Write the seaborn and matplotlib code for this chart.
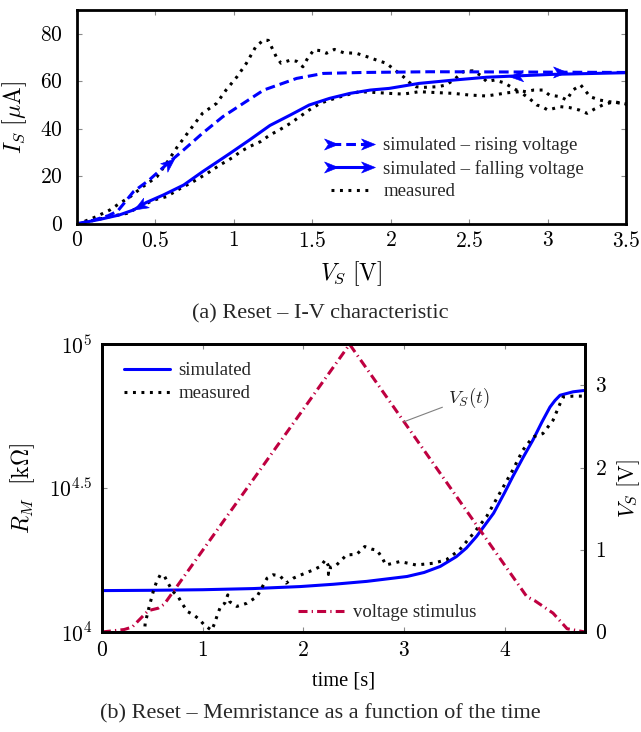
import numpy as np
import matplotlib
matplotlib.use("Agg")
import matplotlib.pyplot as plt
import seaborn as sns
from matplotlib.path import Path
from matplotlib.markers import MarkerStyle
from matplotlib.transforms import Affine2D
from matplotlib.lines import Line2D
from matplotlib.ticker import FixedLocator, FuncFormatter, NullLocator

# ---------------- data: (a) I-V characteristic ----------------
# measured, rising branch (V in V, I in uA)
v_meas_up = [0.00, 0.06, 0.12, 0.21, 0.27, 0.34, 0.42, 0.51, 0.57, 0.64, 0.72, 0.80,
             0.89, 0.95, 1.02, 1.08, 1.14, 1.19, 1.22, 1.27, 1.30, 1.36, 1.40, 1.44,
             1.47, 1.51, 1.55, 1.59, 1.64, 1.70, 1.78, 1.85, 1.91, 1.97, 2.04, 2.08,
             2.12, 2.16, 2.20, 2.30, 2.35, 2.40, 2.46, 2.52, 2.57, 2.61, 2.66, 2.72,
             2.80, 2.86, 2.91, 2.97, 3.01, 3.08, 3.12, 3.16, 3.21, 3.27, 3.33, 3.39,
             3.45, 3.50]
i_meas_up = [0.0, 1.4, 3.0, 5.9, 8.6, 11.5, 15.7, 19.9, 25.5, 32.5, 39.6, 46.6,
             50.8, 56.4, 62.0, 67.7, 74.7, 77.5, 77.3, 70.4, 67.7, 69.0, 68.5, 66.2,
             69.8, 73.3, 73.0, 71.9, 73.5, 72.1, 71.9, 70.4, 69.0, 67.7, 64.1, 62.0,
             59.5, 57.8, 57.5, 57.8, 58.5, 60.6, 64.1, 64.5, 62.7, 60.0, 60.6, 59.5,
             56.4, 55.7, 56.4, 56.4, 54.3, 53.6, 52.2, 56.4, 58.5, 53.6, 52.2, 51.5,
             51.0, 50.5]
# measured, falling branch
v_meas_down = [3.50, 3.42, 3.35, 3.30, 3.25, 3.20, 3.14, 3.08, 3.03, 3.00, 2.96, 2.93,
               2.88, 2.82, 2.75, 2.61, 2.50, 2.40, 2.30, 2.18, 2.08, 1.99, 1.87, 1.80,
               1.74, 1.68, 1.61, 1.55, 1.48, 1.42, 1.36, 1.29, 1.23, 1.17, 1.10, 1.04,
               1.00, 0.91, 0.83, 0.74, 0.66, 0.57, 0.49, 0.40, 0.32, 0.21, 0.12, 0.04,
               0.00]
i_meas_down = [50.5, 51.5, 50.1, 48.5, 46.6, 48.0, 49.0, 49.4, 48.5, 48.0, 49.5, 50.1,
               53.0, 55.7, 55.3, 53.9, 54.3, 55.0, 55.3, 55.7, 54.7, 55.0, 55.5, 55.7,
               54.7, 53.6, 52.2, 50.8, 48.0, 45.2, 42.4, 39.6, 37.5, 34.7, 32.6, 30.4,
               28.3, 24.8, 21.3, 17.8, 15.0, 11.5, 10.1, 7.3, 4.5, 3.1, 1.7, 0.6,
               0.0]
# simulated, rising voltage
v_sim_up = [0.00, 0.10, 0.20, 0.26, 0.30, 0.36, 0.46, 0.57, 0.68, 0.80, 0.93, 1.06,
            1.19, 1.25, 1.40, 1.57, 1.82, 2.25, 2.80, 3.50]
i_sim_up = [0.0, 1.5, 3.5, 5.5, 8.7, 13.6, 18.5, 25.0, 31.2, 38.2, 45.2, 50.8,
            56.4, 57.8, 61.3, 63.4, 63.8, 64.1, 64.0, 63.8]
# simulated, falling voltage
v_sim_down = [3.50, 3.03, 2.82, 2.61, 2.40, 2.18, 1.99, 1.87, 1.74, 1.61, 1.48, 1.36,
              1.23, 1.10, 0.97, 0.80, 0.68, 0.55, 0.44, 0.36, 0.27, 0.15, 0.02, 0.00]
i_sim_down = [63.7, 63.0, 62.4, 61.8, 60.6, 59.2, 57.1, 56.4, 55.0, 52.9, 50.1, 45.9,
              41.5, 35.4, 29.5, 22.0, 16.4, 12.2, 9.0, 5.9, 3.8, 2.0, 0.3, 0.0]

# ---------------- data: (b) memristance vs time ----------------
t_sim = [0.00, 0.50, 1.00, 1.50, 1.97, 2.30, 2.63, 3.03, 3.20, 3.36, 3.52, 3.62,
         3.72, 3.80, 3.89, 4.00, 4.08, 4.18, 4.28, 4.37, 4.45, 4.50, 4.55, 4.68, 4.80]
r_sim = [13930, 13964, 14028, 14157, 14388, 14655, 14997, 15596, 16106, 16904, 18281, 19588,
         21478, 23442, 25882, 30549, 34674, 40272, 46452, 53703, 60534, 63826, 66527, 68391, 69183]
t_meas = [0.42, 0.43, 0.47, 0.51, 0.54, 0.58, 0.62, 0.66, 0.70, 0.76, 0.80, 0.85,
          0.91, 0.97, 1.02, 1.09, 1.12, 1.15, 1.18, 1.22, 1.25, 1.27, 1.34, 1.44,
          1.54, 1.64, 1.70, 1.77, 1.83, 1.90, 1.98, 2.10, 2.17, 2.22, 2.25, 2.25,
          2.27, 2.33, 2.43, 2.53, 2.61, 2.68, 2.73, 2.78, 2.82, 2.96, 3.12, 3.29,
          3.42, 3.55, 3.69, 3.82, 3.95, 4.08, 4.18, 4.28, 4.38, 4.48, 4.55, 4.58,
          4.68, 4.77]
r_meas = [9772, 10740, 12274, 13836, 14859, 15812, 15668, 14723, 13900, 13213, 12503, 11776,
          11482, 11041, 10544, 10139, 10740, 11561, 12303, 12589, 13459, 12735, 12274, 12589,
          13274, 15382, 15812, 15668, 14791, 15382, 15812, 16443, 16904, 17824, 16982, 15849,
          16788, 17100, 18535, 18621, 19815, 19409, 19275, 18197, 17100, 17579, 17100, 17338,
          17824, 19275, 22029, 25177, 30339, 36559, 42855, 47643, 48978, 54450, 62230, 65615,
          66069, 66069]
t_volt = [0.00, 0.22, 0.30, 0.46, 0.56, 0.62, 2.46, 4.22, 4.30, 4.48, 4.62, 4.80]
v_volt = [0.00, 0.03, 0.06, 0.26, 0.29, 0.34, 3.50, 0.43, 0.38, 0.23, 0.04, 0.00]

iv_xticks = [0, 0.5, 1, 1.5, 2, 2.5, 3, 3.5]
iv_yticks = [0, 20, 40, 60, 80]
rm_xticks = [0, 1, 2, 3, 4]
rm_yticks = [1e4, 10 ** 4.5, 1e5]
rm_yticklabels = [r"$10^{4}$", r"$10^{4.5}$", r"$10^{5}$"]
vs_yticks = [0, 1, 2, 3]

iv_labels = ["simulated – rising voltage", "simulated – falling voltage", "measured"]
rm_labels = ["simulated", "measured"]
stim_label = "voltage stimulus"

# ---------------- style ----------------
BLUE = "#0000ff"
CRIMSON = "#bf0040"
LW = 2.2
DLW = 2.2
DOTTED = (0, (2.1, 4.0))
DASHED = (0, (7.0, 3.6))
DASHDOT = (0, (6.5, 3.0, 0.9, 3.0))
ARROW_RISING_AT = [0.585, 3.08]
ARROW_FALLING_AT = [2.80, 0.40]
TICK_FS = 15.5
LABEL_FS = 17
LEG_FS = 13.5
CAP_FS = 16

sns.set_theme(style="white")
plt.rcParams.update({
    "font.family": ["Liberation Serif", "DejaVu Serif"],
    "mathtext.fontset": "cm",
    "font.size": 13.5,
    "axes.linewidth": 2.0,
    "axes.edgecolor": "black",
    "axes.labelcolor": "black",
    "xtick.direction": "in",
    "ytick.direction": "in",
    "xtick.color": "#8a8a8a",
    "ytick.color": "#8a8a8a",
    "xtick.labelcolor": "black",
    "ytick.labelcolor": "black",
    "xtick.major.size": 3.8,
    "ytick.major.size": 3.8,
    "xtick.major.width": 0.8,
    "ytick.major.width": 0.8,
    "xtick.labelsize": TICK_FS,
    "ytick.labelsize": TICK_FS,
    "lines.scale_dashes": False,
    "axes.unicode_minus": False,
})

stealth_path = Path([(1.0, 0.0), (-1.0, 0.8), (-0.45, 0.0), (-1.0, -0.8), (1.0, 0.0)],
                    [Path.MOVETO, Path.LINETO, Path.LINETO, Path.LINETO, Path.CLOSEPOLY])

fig = plt.figure(figsize=(6.41, 7.32), dpi=100)
fig.patch.set_facecolor("white")

mathfmt = FuncFormatter(lambda v, p: f"${v:g}$")

# ---------------- (a) ----------------
ax1 = fig.add_axes([0.120, 0.694, 0.857, 0.292])
v_meas = v_meas_up + v_meas_down[1:]
i_meas = i_meas_up + i_meas_down[1:]
sns.lineplot(x=v_meas, y=i_meas, ax=ax1, sort=False, estimator=None, color="black",
             lw=DLW, linestyle=DOTTED, dash_capstyle="butt")
sns.lineplot(x=v_sim_up, y=i_sim_up, ax=ax1, sort=False, estimator=None, color=BLUE,
             lw=LW, linestyle=DASHED)
sns.lineplot(x=v_sim_down, y=i_sim_down, ax=ax1, sort=False, estimator=None, color=BLUE,
             lw=LW, linestyle="-")
ax1.set_xlim(0, 3.5)
ax1.set_ylim(0, 90)
ax1.xaxis.set_major_locator(FixedLocator(iv_xticks))
ax1.yaxis.set_major_locator(FixedLocator(iv_yticks))
ax1.xaxis.set_major_formatter(mathfmt)
ax1.yaxis.set_major_formatter(mathfmt)
ax1.tick_params(top=True, right=True, bottom=True, left=True)
ax1.tick_params(axis="x", pad=6)
ax1.tick_params(axis="y", pad=10)
ax1.set_xlabel(r"$V_S\ [\mathrm{V}]$", fontsize=LABEL_FS, labelpad=5)
ax1.set_ylabel(r"$I_S\ [\mu\mathrm{A}]$", fontsize=LABEL_FS, labelpad=8)


def add_arrows(ax, xs, ys, where, forward, color):
    xs = np.asarray(xs, float)
    ys = np.asarray(ys, float)
    order = np.argsort(xs)
    xsort, ysort = xs[order], ys[order]
    for xa in where:
        ya = np.interp(xa, xsort, ysort)
        step = 0.03 if forward else -0.03
        yb = np.interp(xa + step, xsort, ysort)
        p0 = ax.transData.transform((xa, ya))
        p1 = ax.transData.transform((xa + step, yb))
        ang = np.degrees(np.arctan2(p1[1] - p0[1], p1[0] - p0[0]))
        ms = MarkerStyle(stealth_path, transform=Affine2D().rotate_deg(ang))
        ax.plot([xa], [ya], marker=ms, markersize=10, color=color, mew=0.4,
                linestyle="none", zorder=5)


add_arrows(ax1, v_sim_up, i_sim_up, ARROW_RISING_AT, True, BLUE)
add_arrows(ax1, v_sim_down, i_sim_down, ARROW_FALLING_AT, False, BLUE)

h_up = Line2D([], [], color=BLUE, lw=LW, linestyle=DASHED, marker=stealth_path, markersize=10, mew=0.4)
h_dn = Line2D([], [], color=BLUE, lw=LW, linestyle="-", marker=stealth_path, markersize=10, mew=0.4)
h_me = Line2D([], [], color="black", lw=DLW, linestyle=DOTTED, dash_capstyle="butt")
ax1.legend([h_up, h_dn, h_me], iv_labels, loc="center left", bbox_to_anchor=(0.452, 0.259),
           frameon=False, numpoints=2, handlelength=2.6, handletextpad=0.5,
           labelspacing=0.3, borderpad=0, borderaxespad=0, fontsize=LEG_FS)

fig.text(0.5, 1 - 314 / 732, "(a) Reset – I-V characteristic", ha="center", va="center",
         fontsize=CAP_FS)

# ---------------- (b) ----------------
ax2 = fig.add_axes([0.159, 0.1366, 0.754, 0.393])
ax2.set_yscale("log")
sns.lineplot(x=t_sim, y=r_sim, ax=ax2, sort=False, estimator=None, color=BLUE, lw=LW,
             linestyle="-")
sns.lineplot(x=t_meas, y=r_meas, ax=ax2, sort=False, estimator=None, color="black",
             lw=DLW, linestyle=DOTTED, dash_capstyle="butt")
ax2.set_xlim(0, 4.8)
ax2.set_ylim(1e4, 1e5)
ax2.xaxis.set_major_locator(FixedLocator(rm_xticks))
ax2.xaxis.set_major_formatter(mathfmt)
ax2.set_yticks(rm_yticks)
ax2.set_yticklabels(rm_yticklabels)
ax2.yaxis.set_minor_locator(NullLocator())
ax2.tick_params(which="minor", left=False, right=False)
ax2.tick_params(top=True, bottom=True, left=True, right=False, pad=7)
ax2.set_xlabel("time [s]", fontsize=14.8, labelpad=8)
ax2.set_ylabel(r"$R_M\ \ [\mathrm{k}\Omega]$", fontsize=LABEL_FS, labelpad=9)

ax3 = ax2.twinx()
sns.lineplot(x=t_volt, y=v_volt, ax=ax3, sort=False, estimator=None, color=CRIMSON, lw=LW,
             linestyle=DASHDOT)
ax3.set_ylim(0, 3.5)
ax3.set_xlim(0, 4.8)
ax3.yaxis.set_major_locator(FixedLocator(vs_yticks))
ax3.yaxis.set_major_formatter(mathfmt)
ax3.tick_params(right=True, left=False, top=False, bottom=False, pad=7)
ax3.set_ylabel(r"$V_S\ [\mathrm{V}]$", fontsize=16, labelpad=6)
for sp in ax3.spines.values():
    sp.set_linewidth(2.0)

ax3.annotate(r"$V_S(t)$", xy=(3.0, float(np.interp(3.0, t_volt, v_volt))), xytext=(3.44, 2.85),
             ha="left", va="center", fontsize=13.5, color="#222222",
             arrowprops=dict(arrowstyle="-", color="#808080", lw=0.8, shrinkA=2, shrinkB=0,
                             relpos=(0.0, 0.2)))

h_sim = Line2D([], [], color=BLUE, lw=LW, linestyle="-")
h_mea = Line2D([], [], color="black", lw=DLW, linestyle=DOTTED, dash_capstyle="butt")
ax3.legend([h_sim, h_mea], rm_labels, loc="center left", bbox_to_anchor=(0.0455, 0.868),
           frameon=False, handlelength=2.45, handletextpad=0.45, labelspacing=0.3,
           borderpad=0, borderaxespad=0, fontsize=LEG_FS)
h_st = Line2D([], [], color=CRIMSON, lw=LW, linestyle=DASHDOT)
leg2 = matplotlib.legend.Legend(ax3, [h_st], [stim_label], loc="center left",
                                bbox_to_anchor=(0.406, 0.067), frameon=False, handlelength=2.45,
                                handletextpad=0.45, borderpad=0, borderaxespad=0, fontsize=LEG_FS)
ax3.add_artist(leg2)

fig.text(0.5, 1 - 714 / 732, "(b) Reset – Memristance as a function of the time",
         ha="center", va="center", fontsize=CAP_FS)

fig.savefig("out.png", dpi=100, facecolor="white")
